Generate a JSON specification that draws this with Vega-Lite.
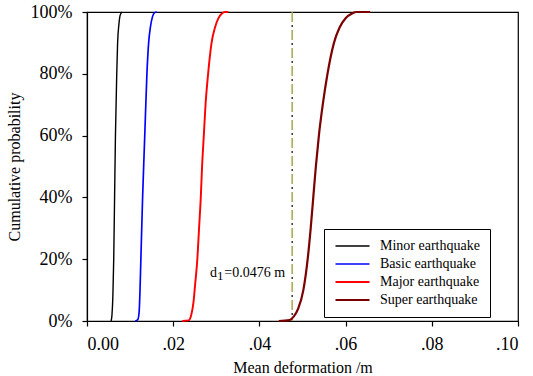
{
  "$schema": "https://vega.github.io/schema/vega-lite/v6.json",
  "autosize": "none",
  "width": 431,
  "height": 309,
  "padding": {"left": 87, "top": 12, "right": 15, "bottom": 55},
  "background": "white",
  "config": {
    "font": "Liberation Serif",
    "view": {"stroke": "black", "strokeWidth": 1.2},
    "axis": {
      "grid": false,
      "domainColor": "black",
      "domainWidth": 1.2,
      "tickColor": "black",
      "tickWidth": 1.2,
      "tickSize": 5,
      "labelColor": "black",
      "labelFont": "Liberation Serif",
      "labelFontSize": 18,
      "titleColor": "black",
      "titleFont": "Liberation Serif",
      "titleFontSize": 16,
      "titleFontWeight": "normal"
    },
    "legend": {
      "labelFont": "Liberation Serif",
      "labelFontSize": 14,
      "labelColor": "black"
    }
  },
  "datasets": {
    "curves": [
      {"series": "Minor earthquake", "x": 0.0056, "p": 0.0},
      {"series": "Minor earthquake", "x": 0.0058, "p": 0.02},
      {"series": "Minor earthquake", "x": 0.0060, "p": 0.08},
      {"series": "Minor earthquake", "x": 0.0062, "p": 0.2},
      {"series": "Minor earthquake", "x": 0.0064, "p": 0.4},
      {"series": "Minor earthquake", "x": 0.0066, "p": 0.6},
      {"series": "Minor earthquake", "x": 0.0069, "p": 0.8},
      {"series": "Minor earthquake", "x": 0.0071, "p": 0.9},
      {"series": "Minor earthquake", "x": 0.0074, "p": 0.96},
      {"series": "Minor earthquake", "x": 0.0077, "p": 0.99},
      {"series": "Minor earthquake", "x": 0.0081, "p": 1.0},

      {"series": "Basic earthquake", "x": 0.0112, "p": 0.0},
      {"series": "Basic earthquake", "x": 0.0118, "p": 0.005},
      {"series": "Basic earthquake", "x": 0.0121, "p": 0.03},
      {"series": "Basic earthquake", "x": 0.0123, "p": 0.1},
      {"series": "Basic earthquake", "x": 0.0125, "p": 0.2},
      {"series": "Basic earthquake", "x": 0.0129, "p": 0.4},
      {"series": "Basic earthquake", "x": 0.0134, "p": 0.6},
      {"series": "Basic earthquake", "x": 0.0139, "p": 0.8},
      {"series": "Basic earthquake", "x": 0.0143, "p": 0.9},
      {"series": "Basic earthquake", "x": 0.0147, "p": 0.95},
      {"series": "Basic earthquake", "x": 0.0152, "p": 0.985},
      {"series": "Basic earthquake", "x": 0.0157, "p": 0.998},
      {"series": "Basic earthquake", "x": 0.0162, "p": 1.0},

      {"series": "Major earthquake", "x": 0.0221, "p": 0.0},
      {"series": "Major earthquake", "x": 0.0236, "p": 0.002},
      {"series": "Major earthquake", "x": 0.0242, "p": 0.02},
      {"series": "Major earthquake", "x": 0.0247, "p": 0.06},
      {"series": "Major earthquake", "x": 0.0251, "p": 0.12},
      {"series": "Major earthquake", "x": 0.0256, "p": 0.2},
      {"series": "Major earthquake", "x": 0.0260, "p": 0.3},
      {"series": "Major earthquake", "x": 0.0264, "p": 0.4},
      {"series": "Major earthquake", "x": 0.0267, "p": 0.5},
      {"series": "Major earthquake", "x": 0.0271, "p": 0.6},
      {"series": "Major earthquake", "x": 0.0275, "p": 0.7},
      {"series": "Major earthquake", "x": 0.0281, "p": 0.8},
      {"series": "Major earthquake", "x": 0.0289, "p": 0.9},
      {"series": "Major earthquake", "x": 0.0297, "p": 0.95},
      {"series": "Major earthquake", "x": 0.0305, "p": 0.98},
      {"series": "Major earthquake", "x": 0.0313, "p": 0.995},
      {"series": "Major earthquake", "x": 0.0320, "p": 1.0},
      {"series": "Major earthquake", "x": 0.0328, "p": 1.0},

      {"series": "Super earthquake", "x": 0.0445, "p": 0.0},
      {"series": "Super earthquake", "x": 0.0470, "p": 0.003},
      {"series": "Super earthquake", "x": 0.0480, "p": 0.015},
      {"series": "Super earthquake", "x": 0.0490, "p": 0.04},
      {"series": "Super earthquake", "x": 0.0502, "p": 0.1},
      {"series": "Super earthquake", "x": 0.0512, "p": 0.2},
      {"series": "Super earthquake", "x": 0.0519, "p": 0.3},
      {"series": "Super earthquake", "x": 0.0525, "p": 0.4},
      {"series": "Super earthquake", "x": 0.0531, "p": 0.5},
      {"series": "Super earthquake", "x": 0.0538, "p": 0.6},
      {"series": "Super earthquake", "x": 0.0547, "p": 0.7},
      {"series": "Super earthquake", "x": 0.0558, "p": 0.8},
      {"series": "Super earthquake", "x": 0.0573, "p": 0.9},
      {"series": "Super earthquake", "x": 0.0586, "p": 0.95},
      {"series": "Super earthquake", "x": 0.0600, "p": 0.98},
      {"series": "Super earthquake", "x": 0.0615, "p": 0.995},
      {"series": "Super earthquake", "x": 0.0625, "p": 1.0},
      {"series": "Super earthquake", "x": 0.0657, "p": 1.0}
    ],
    "threshold": [
      {"d": 0.0476}
    ]
  },
  "layer": [
    {
      "data": {"name": "threshold"},
      "mark": {"type": "rule", "color": "#a8a84c", "strokeWidth": 1.5, "strokeDash": [10, 8]},
      "encoding": {
        "x": {"field": "d", "type": "quantitative"}
      }
    },
    {
      "data": {"name": "threshold"},
      "mark": {"type": "rule", "color": "black", "strokeWidth": 1.2, "strokeDash": [2, 16], "strokeDashOffset": 5},
      "encoding": {
        "x": {"field": "d", "type": "quantitative"}
      }
    },
    {
      "data": {"name": "threshold"},
      "mark": {"type": "text", "align": "right", "baseline": "alphabetic", "dx": -7, "fontSize": 14, "color": "black"},
      "encoding": {
        "x": {"field": "d", "type": "quantitative"},
        "y": {"datum": 0.1425, "type": "quantitative"},
        "text": {"value": "=0.0476 m"}
      }
    },
    {
      "data": {"name": "threshold"},
      "mark": {"type": "text", "align": "right", "baseline": "alphabetic", "dx": -68.7, "dy": 3.5, "fontSize": 13, "color": "black"},
      "encoding": {
        "x": {"field": "d", "type": "quantitative"},
        "y": {"datum": 0.1425, "type": "quantitative"},
        "text": {"value": "1"}
      }
    },
    {
      "data": {"name": "threshold"},
      "mark": {"type": "text", "align": "right", "baseline": "alphabetic", "dx": -75.2, "fontSize": 14, "color": "black"},
      "encoding": {
        "x": {"field": "d", "type": "quantitative"},
        "y": {"datum": 0.1425, "type": "quantitative"},
        "text": {"value": "d"}
      }
    },
    {
      "data": {"name": "curves"},
      "mark": {"type": "line", "interpolate": "monotone"},
      "encoding": {
        "x": {
          "field": "x",
          "type": "quantitative",
          "scale": {"domain": [0, 0.1], "nice": false},
          "axis": {
            "title": "Mean deformation /m",
            "values": [0, 0.02, 0.04, 0.06, 0.08, 0.1],
            "labelExpr": "datum.value == 0 ? '0.00' : replace(format(datum.value, '.2f'), '0.', '.')",
            "labelPadding": 9,
            "titlePadding": 6
          }
        },
        "y": {
          "field": "p",
          "type": "quantitative",
          "scale": {"domain": [0, 1], "nice": false},
          "axis": {
            "title": "Cumulative probability",
            "values": [0, 0.2, 0.4, 0.6, 0.8, 1],
            "format": ".0%",
            "labelPadding": 10,
            "titlePadding": 8
          }
        },
        "color": {
          "field": "series",
          "type": "nominal",
          "scale": {
            "domain": ["Minor earthquake", "Basic earthquake", "Major earthquake", "Super earthquake"],
            "range": ["#000000", "#0000ff", "#ff0000", "#7c0000"]
          },
          "legend": {
            "title": null,
            "orient": "none",
            "legendX": 237,
            "legendY": 217,
            "symbolType": "stroke",
            "symbolSize": 1156,
            "clipHeight": 14,
            "rowPadding": 4,
            "labelOffset": 9,
            "padding": 10,
            "strokeColor": "black",
            "fillColor": "white",
            "cornerRadius": 0
          }
        },
        "strokeWidth": {
          "field": "series",
          "type": "nominal",
          "scale": {
            "domain": ["Minor earthquake", "Basic earthquake", "Major earthquake", "Super earthquake"],
            "range": [1.4, 2.2, 3.2, 4.2]
          },
          "legend": null
        }
      }
    }
  ]
}
